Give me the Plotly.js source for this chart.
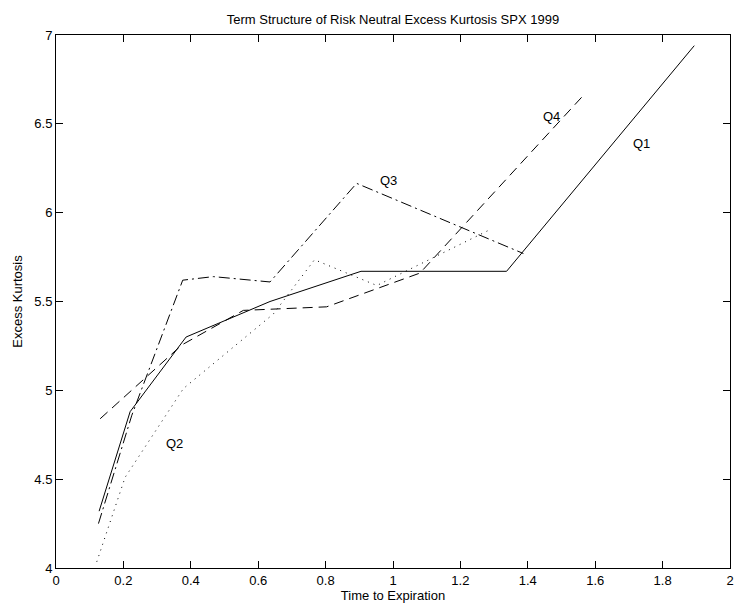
<!DOCTYPE html>
<html>
<head>
<meta charset="utf-8">
<script src="https://cdn.plot.ly/plotly-3.0.1.min.js"></script>
<style>html,body{margin:0;padding:0;background:#fff;}#chart{width:734px;height:612px;}</style>
</head>
<body>
<div id="chart"></div>
<script>
// Q1 (solid)
const q1X = [0.128, 0.220, 0.386, 0.635, 0.905, 1.337, 1.894];
const q1Y = [4.32, 4.88, 5.30, 5.50, 5.67, 5.67, 6.94];
// Q2 (dotted)
const q2X = [0.121, 0.205, 0.378, 0.645, 0.767, 0.952, 1.283];
const q2Y = [4.035, 4.51, 5.01, 5.43, 5.735, 5.59, 5.90];
// Q3 (dash-dot)
const q3X = [0.126, 0.225, 0.376, 0.467, 0.635, 0.892, 1.387];
const q3Y = [4.25, 4.86, 5.62, 5.64, 5.61, 6.165, 5.77];
// Q4 (dashed)
const q4X = [0.131, 0.373, 0.556, 0.803, 1.080, 1.560];
const q4Y = [4.84, 5.255, 5.45, 5.47, 5.66, 6.65];

const labelText = ["Q1", "Q2", "Q3", "Q4"];
const labelX = [1.738, 0.353, 0.986, 1.471];
const labelY = [6.39, 4.70, 6.18, 6.54];

const xTicks = [0, 0.2, 0.4, 0.6, 0.8, 1, 1.2, 1.4, 1.6, 1.8, 2];
const yTicks = [4, 4.5, 5, 5.5, 6, 6.5, 7];

const FONT = "Liberation Sans, Arial, Helvetica, sans-serif";

function tr(x, y, dash) {
  return {x: x, y: y, type: "scatter", mode: "lines",
    line: {color: "#000", width: 1, dash: dash}, hoverinfo: "skip", showlegend: false};
}

const data = [
  tr(q1X, q1Y, "solid"),
  tr(q2X, q2Y, "1px,5px"),
  tr(q3X, q3Y, "11px,4px,2px,4px"),
  tr(q4X, q4Y, "10px,6px")
];

const annotations = labelText.map((t, i) => ({
  x: labelX[i], y: labelY[i], xref: "x", yref: "y", text: t, showarrow: false,
  font: {family: FONT, size: 13, color: "#000"}, xanchor: "center", yanchor: "middle"
}));

const axisCommon = {
  showgrid: false, zeroline: false, showline: true, linecolor: "#000", linewidth: 1,
  mirror: "ticks", ticks: "inside", ticklen: 7, tickwidth: 1, tickcolor: "#000",
  tickfont: {family: FONT, size: 13, color: "#000"}
};

const layout = {
  width: 734, height: 612,
  margin: {l: 56, r: 4, t: 35, b: 44},
  paper_bgcolor: "#fff", plot_bgcolor: "#fff",
  title: {text: "Term Structure of Risk Neutral Excess Kurtosis SPX 1999",
    font: {family: FONT, size: 13, color: "#000"}, x: 0.5, xanchor: "center", y: 0.969, yanchor: "middle", xref: "paper"},
  xaxis: Object.assign({}, axisCommon, {range: [0, 2], tickvals: xTicks, ticktext: xTicks.map(String),
    title: {text: "Time to Expiration", font: {family: FONT, size: 13, color: "#000"}, standoff: 2}}),
  yaxis: Object.assign({}, axisCommon, {range: [4, 7], tickvals: yTicks, ticktext: yTicks.map(String),
    title: {text: "Excess Kurtosis", font: {family: FONT, size: 13, color: "#000"}, standoff: 8}}),
  annotations: annotations,
  showlegend: false
};

Plotly.newPlot("chart", data, layout, {staticPlot: true, displayModeBar: false});
</script>
</body>
</html>
